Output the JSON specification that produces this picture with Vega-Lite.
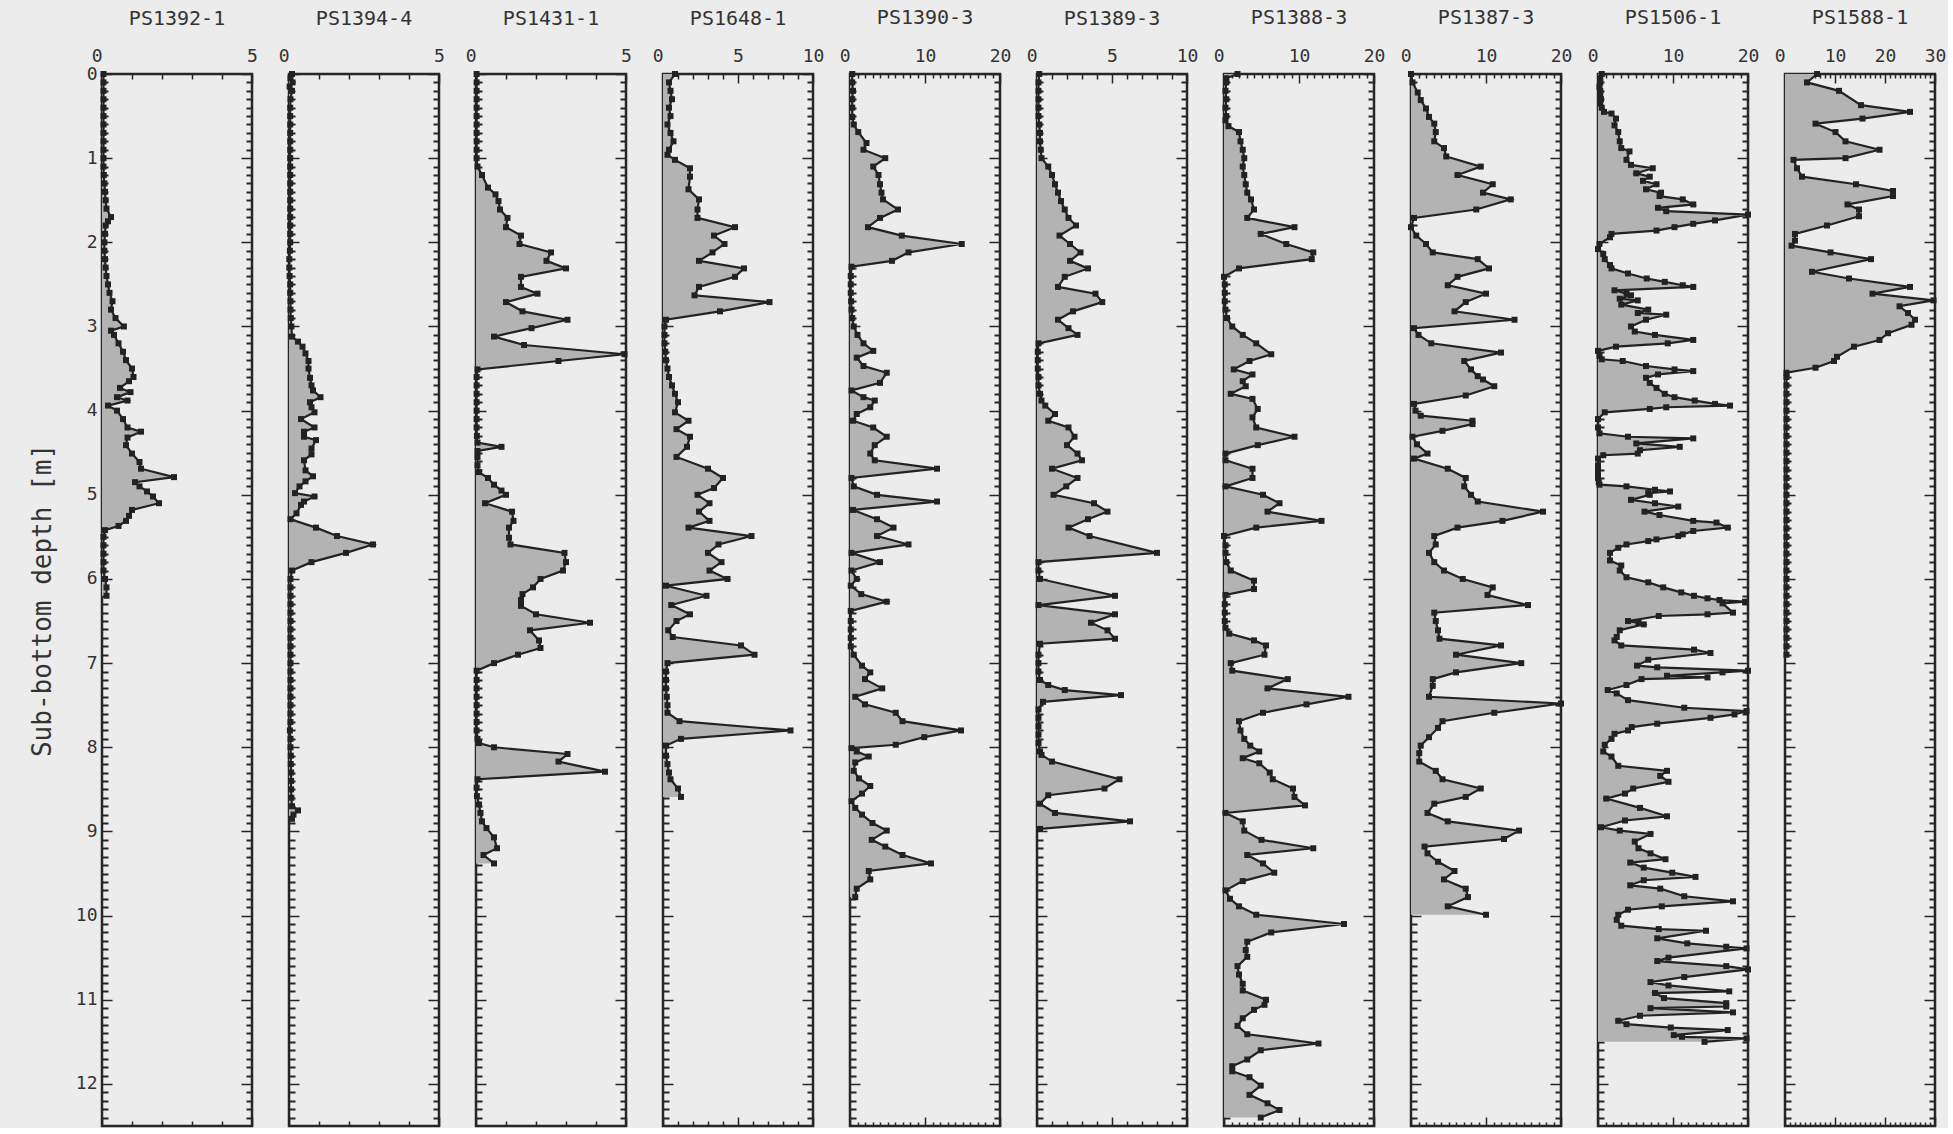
{
"$schema":"https://vega.github.io/schema/vega-lite/v6.json",
"background":"#ececec",
"padding":{"left":28,"top":6,"right":0,"bottom":0},
"spacing":37,
"bounds":"flush",
"config":{
 "view":{"stroke":"#262626","strokeWidth":2.5},
 "axis":{"labelFont":"DejaVu Sans Mono","labelFontSize":18,"labelColor":"#333","tickColor":"#262626","tickWidth":1.5,"domain":false,"grid":false,"titleFont":"DejaVu Sans Mono","titleFontSize":26,"titleFontWeight":"normal","titleColor":"#333","labelOverlap":false,"labelFlush":false},
 "title":{"font":"DejaVu Sans Mono","fontSize":20,"fontWeight":"normal","color":"#333","offset":14}
},
"datasets":{
"p1":[{"d":0,"v":0.05},{"d":0.1,"v":0.05},{"d":0.2,"v":0.05},{"d":0.3,"v":0.05},{"d":0.4,"v":0.05},{"d":0.5,"v":0.05},{"d":0.6,"v":0.05},{"d":0.7,"v":0.05},{"d":0.8,"v":0.05},{"d":0.9,"v":0.05},{"d":1.0,"v":0.05},{"d":1.1,"v":0.05},{"d":1.2,"v":0.06},{"d":1.3,"v":0.08},{"d":1.4,"v":0.1},{"d":1.5,"v":0.12},{"d":1.6,"v":0.15},{"d":1.7,"v":0.3},{"d":1.75,"v":0.2},{"d":1.8,"v":0.12},{"d":1.9,"v":0.1},{"d":2.0,"v":0.08},{"d":2.1,"v":0.08},{"d":2.2,"v":0.1},{"d":2.3,"v":0.12},{"d":2.4,"v":0.15},{"d":2.5,"v":0.2},{"d":2.6,"v":0.25},{"d":2.7,"v":0.35},{"d":2.8,"v":0.3},{"d":2.9,"v":0.45},{"d":3.0,"v":0.73},{"d":3.05,"v":0.3},{"d":3.1,"v":0.4},{"d":3.2,"v":0.55},{"d":3.3,"v":0.7},{"d":3.4,"v":0.8},{"d":3.5,"v":1.0},{"d":3.6,"v":1.05},{"d":3.65,"v":0.9},{"d":3.73,"v":0.6},{"d":3.78,"v":0.95},{"d":3.84,"v":0.5},{"d":3.88,"v":0.85},{"d":3.94,"v":0.2},{"d":4.0,"v":0.5},{"d":4.1,"v":0.7},{"d":4.2,"v":0.85},{"d":4.25,"v":1.3},{"d":4.32,"v":0.85},{"d":4.41,"v":0.8},{"d":4.51,"v":1.0},{"d":4.61,"v":1.25},{"d":4.69,"v":1.3},{"d":4.79,"v":2.4},{"d":4.85,"v":1.1},{"d":4.9,"v":1.25},{"d":4.96,"v":1.5},{"d":5.02,"v":1.7},{"d":5.1,"v":1.9},{"d":5.18,"v":1.0},{"d":5.25,"v":0.9},{"d":5.31,"v":0.8},{"d":5.37,"v":0.55},{"d":5.42,"v":0.1},{"d":5.5,"v":0.05},{"d":5.6,"v":0.05},{"d":5.7,"v":0.05},{"d":5.8,"v":0.05},{"d":5.9,"v":0.05},{"d":6.0,"v":0.1},{"d":6.1,"v":0.15},{"d":6.2,"v":0.15}],
"p2":[{"d":0,"v":0.1},{"d":0.05,"v":0.05},{"d":0.1,"v":0.12},{"d":0.15,"v":0.02},{"d":0.2,"v":0.1},{"d":0.3,"v":0.05},{"d":0.4,"v":0.04},{"d":0.5,"v":0.04},{"d":0.6,"v":0.04},{"d":0.7,"v":0.04},{"d":0.8,"v":0.04},{"d":0.9,"v":0.04},{"d":1.0,"v":0.04},{"d":1.1,"v":0.04},{"d":1.2,"v":0.04},{"d":1.3,"v":0.04},{"d":1.4,"v":0.04},{"d":1.5,"v":0.04},{"d":1.6,"v":0.04},{"d":1.7,"v":0.04},{"d":1.8,"v":0.04},{"d":1.9,"v":0.04},{"d":2.0,"v":0.04},{"d":2.1,"v":0.03},{"d":2.2,"v":0.01},{"d":2.3,"v":0.01},{"d":2.4,"v":0.02},{"d":2.5,"v":0.04},{"d":2.6,"v":0.04},{"d":2.7,"v":0.05},{"d":2.8,"v":0.05},{"d":2.9,"v":0.06},{"d":3.0,"v":0.08},{"d":3.12,"v":0.1},{"d":3.18,"v":0.3},{"d":3.24,"v":0.45},{"d":3.32,"v":0.55},{"d":3.41,"v":0.65},{"d":3.5,"v":0.65},{"d":3.61,"v":0.7},{"d":3.7,"v":0.75},{"d":3.76,"v":0.8},{"d":3.84,"v":1.05},{"d":3.9,"v":0.7},{"d":3.96,"v":0.75},{"d":4.02,"v":0.85},{"d":4.1,"v":0.4},{"d":4.2,"v":0.85},{"d":4.25,"v":0.5},{"d":4.31,"v":0.5},{"d":4.35,"v":0.9},{"d":4.45,"v":0.75},{"d":4.52,"v":0.75},{"d":4.59,"v":0.5},{"d":4.71,"v":0.55},{"d":4.78,"v":0.8},{"d":4.84,"v":0.55},{"d":4.9,"v":0.35},{"d":4.98,"v":0.2},{"d":5.02,"v":0.85},{"d":5.08,"v":0.5},{"d":5.12,"v":0.4},{"d":5.22,"v":0.25},{"d":5.29,"v":0.05},{"d":5.39,"v":0.9},{"d":5.49,"v":1.6},{"d":5.59,"v":2.8},{"d":5.69,"v":1.9},{"d":5.8,"v":0.75},{"d":5.9,"v":0.1},{"d":6.0,"v":0.05},{"d":6.1,"v":0.05},{"d":6.2,"v":0.05},{"d":6.3,"v":0.05},{"d":6.4,"v":0.05},{"d":6.5,"v":0.05},{"d":6.6,"v":0.05},{"d":6.7,"v":0.05},{"d":6.8,"v":0.05},{"d":6.9,"v":0.05},{"d":7.0,"v":0.05},{"d":7.1,"v":0.05},{"d":7.2,"v":0.05},{"d":7.3,"v":0.05},{"d":7.4,"v":0.05},{"d":7.5,"v":0.05},{"d":7.6,"v":0.05},{"d":7.7,"v":0.05},{"d":7.8,"v":0.03},{"d":7.9,"v":0.05},{"d":8.0,"v":0.05},{"d":8.1,"v":0.06},{"d":8.2,"v":0.06},{"d":8.3,"v":0.07},{"d":8.4,"v":0.07},{"d":8.5,"v":0.07},{"d":8.6,"v":0.08},{"d":8.7,"v":0.1},{"d":8.75,"v":0.3},{"d":8.8,"v":0.15},{"d":8.85,"v":0.1}],
"p3":[{"d":0,"v":0.02},{"d":0.1,"v":0.02},{"d":0.2,"v":0.02},{"d":0.3,"v":0.02},{"d":0.4,"v":0.02},{"d":0.5,"v":0.02},{"d":0.6,"v":0.02},{"d":0.7,"v":0.02},{"d":0.8,"v":0.02},{"d":0.9,"v":0.02},{"d":1.0,"v":0.02},{"d":1.1,"v":0.05},{"d":1.2,"v":0.2},{"d":1.35,"v":0.4},{"d":1.43,"v":0.65},{"d":1.51,"v":0.75},{"d":1.61,"v":0.8},{"d":1.71,"v":1.05},{"d":1.82,"v":1.0},{"d":1.92,"v":1.5},{"d":2.02,"v":1.45},{"d":2.12,"v":2.5},{"d":2.22,"v":2.35},{"d":2.31,"v":3.0},{"d":2.41,"v":1.5},{"d":2.53,"v":1.5},{"d":2.61,"v":2.05},{"d":2.71,"v":1.0},{"d":2.82,"v":1.55},{"d":2.92,"v":3.05},{"d":3.02,"v":1.85},{"d":3.12,"v":0.6},{"d":3.22,"v":1.6},{"d":3.33,"v":4.95},{"d":3.41,"v":2.75},{"d":3.51,"v":0.05},{"d":3.6,"v":0.02},{"d":3.7,"v":0.02},{"d":3.8,"v":0.02},{"d":3.9,"v":0.02},{"d":4.0,"v":0.02},{"d":4.1,"v":0.02},{"d":4.2,"v":0.02},{"d":4.3,"v":0.03},{"d":4.38,"v":0.05},{"d":4.43,"v":0.85},{"d":4.48,"v":0.05},{"d":4.55,"v":0.05},{"d":4.65,"v":0.05},{"d":4.73,"v":0.1},{"d":4.8,"v":0.4},{"d":4.88,"v":0.6},{"d":4.95,"v":0.85},{"d":5.0,"v":1.0},{"d":5.1,"v":0.3},{"d":5.2,"v":1.2},{"d":5.31,"v":1.25},{"d":5.39,"v":1.1},{"d":5.51,"v":1.1},{"d":5.59,"v":1.15},{"d":5.69,"v":2.95},{"d":5.8,"v":3.0},{"d":5.9,"v":2.9},{"d":6.0,"v":2.15},{"d":6.1,"v":1.9},{"d":6.18,"v":1.55},{"d":6.25,"v":1.5},{"d":6.32,"v":1.5},{"d":6.42,"v":2.0},{"d":6.52,"v":3.8},{"d":6.61,"v":1.8},{"d":6.73,"v":2.1},{"d":6.82,"v":2.15},{"d":6.9,"v":1.4},{"d":7.0,"v":0.6},{"d":7.09,"v":0.02},{"d":7.2,"v":0.02},{"d":7.3,"v":0.02},{"d":7.4,"v":0.02},{"d":7.5,"v":0.02},{"d":7.6,"v":0.02},{"d":7.7,"v":0.02},{"d":7.8,"v":0.02},{"d":7.9,"v":0.05},{"d":7.95,"v":0.1},{"d":8.0,"v":0.6},{"d":8.08,"v":3.05},{"d":8.17,"v":2.75},{"d":8.29,"v":4.3},{"d":8.38,"v":0.05},{"d":8.48,"v":0.02},{"d":8.58,"v":0.03},{"d":8.68,"v":0.1},{"d":8.78,"v":0.15},{"d":8.88,"v":0.2},{"d":8.96,"v":0.35},{"d":9.07,"v":0.6},{"d":9.2,"v":0.7},{"d":9.28,"v":0.25},{"d":9.38,"v":0.6}],
"p4":[{"d":0,"v":0.8},{"d":0.1,"v":0.4},{"d":0.2,"v":0.5},{"d":0.3,"v":0.6},{"d":0.4,"v":0.4},{"d":0.5,"v":0.5},{"d":0.6,"v":0.3},{"d":0.7,"v":0.5},{"d":0.8,"v":0.7},{"d":0.9,"v":0.4},{"d":0.96,"v":0.3},{"d":1.02,"v":0.8},{"d":1.12,"v":1.8},{"d":1.22,"v":1.8},{"d":1.37,"v":1.7},{"d":1.49,"v":2.4},{"d":1.61,"v":2.3},{"d":1.71,"v":2.3},{"d":1.82,"v":4.8},{"d":1.92,"v":3.4},{"d":2.02,"v":4.1},{"d":2.12,"v":3.3},{"d":2.22,"v":2.4},{"d":2.31,"v":5.4},{"d":2.41,"v":4.8},{"d":2.53,"v":2.4},{"d":2.63,"v":2.1},{"d":2.71,"v":7.1},{"d":2.82,"v":3.8},{"d":2.92,"v":0.2},{"d":3.0,"v":0.1},{"d":3.1,"v":0.1},{"d":3.2,"v":0.1},{"d":3.3,"v":0.15},{"d":3.4,"v":0.2},{"d":3.5,"v":0.3},{"d":3.6,"v":0.4},{"d":3.7,"v":0.6},{"d":3.8,"v":0.8},{"d":3.9,"v":1.0},{"d":4.02,"v":0.8},{"d":4.12,"v":1.7},{"d":4.22,"v":0.9},{"d":4.31,"v":1.8},{"d":4.43,"v":1.6},{"d":4.55,"v":0.9},{"d":4.69,"v":3.0},{"d":4.8,"v":4.0},{"d":4.92,"v":3.4},{"d":5.0,"v":2.3},{"d":5.1,"v":3.1},{"d":5.2,"v":2.4},{"d":5.31,"v":3.1},{"d":5.39,"v":1.7},{"d":5.49,"v":5.9},{"d":5.59,"v":3.7},{"d":5.69,"v":3.0},{"d":5.8,"v":3.9},{"d":5.9,"v":3.1},{"d":6.0,"v":4.3},{"d":6.08,"v":0.2},{"d":6.2,"v":2.9},{"d":6.31,"v":0.55},{"d":6.42,"v":1.8},{"d":6.5,"v":0.9},{"d":6.61,"v":0.35},{"d":6.69,"v":0.65},{"d":6.79,"v":5.2},{"d":6.9,"v":6.1},{"d":7.0,"v":0.3},{"d":7.1,"v":0.2},{"d":7.2,"v":0.2},{"d":7.3,"v":0.2},{"d":7.4,"v":0.25},{"d":7.5,"v":0.3},{"d":7.59,"v":0.3},{"d":7.69,"v":1.1},{"d":7.8,"v":8.5},{"d":7.9,"v":1.2},{"d":7.98,"v":0.2},{"d":8.1,"v":0.2},{"d":8.2,"v":0.3},{"d":8.3,"v":0.4},{"d":8.38,"v":0.5},{"d":8.49,"v":1.0},{"d":8.59,"v":1.2}],
"p5":[{"d":0,"v":0.3},{"d":0.1,"v":0.3},{"d":0.2,"v":0.4},{"d":0.3,"v":0.3},{"d":0.4,"v":0.3},{"d":0.51,"v":0.3},{"d":0.6,"v":0.5},{"d":0.69,"v":1.1},{"d":0.82,"v":2.2},{"d":0.9,"v":1.8},{"d":1.0,"v":4.7},{"d":1.1,"v":3.1},{"d":1.2,"v":3.8},{"d":1.31,"v":4.0},{"d":1.41,"v":4.2},{"d":1.49,"v":4.4},{"d":1.61,"v":6.4},{"d":1.71,"v":4.0},{"d":1.82,"v":2.4},{"d":1.92,"v":6.9},{"d":2.02,"v":14.9},{"d":2.12,"v":7.8},{"d":2.22,"v":5.6},{"d":2.29,"v":0.2},{"d":2.4,"v":0.1},{"d":2.5,"v":0.1},{"d":2.6,"v":0.1},{"d":2.7,"v":0.15},{"d":2.8,"v":0.2},{"d":2.9,"v":0.3},{"d":3.0,"v":0.5},{"d":3.1,"v":1.0},{"d":3.2,"v":1.8},{"d":3.29,"v":3.1},{"d":3.37,"v":0.9},{"d":3.47,"v":1.8},{"d":3.55,"v":4.9},{"d":3.67,"v":4.0},{"d":3.76,"v":0.2},{"d":3.84,"v":1.8},{"d":3.88,"v":3.3},{"d":3.96,"v":2.7},{"d":4.04,"v":0.9},{"d":4.12,"v":0.4},{"d":4.2,"v":3.1},{"d":4.31,"v":4.9},{"d":4.41,"v":3.3},{"d":4.51,"v":2.7},{"d":4.59,"v":3.3},{"d":4.69,"v":11.6},{"d":4.8,"v":0.2},{"d":4.9,"v":0.5},{"d":5.0,"v":3.6},{"d":5.08,"v":11.6},{"d":5.18,"v":0.4},{"d":5.29,"v":3.6},{"d":5.39,"v":5.8},{"d":5.49,"v":3.6},{"d":5.59,"v":7.8},{"d":5.69,"v":0.2},{"d":5.8,"v":4.0},{"d":5.9,"v":0.2},{"d":6.0,"v":0.9},{"d":6.08,"v":0.1},{"d":6.18,"v":1.5},{"d":6.27,"v":4.9},{"d":6.38,"v":0.1},{"d":6.5,"v":0.1},{"d":6.6,"v":0.1},{"d":6.7,"v":0.1},{"d":6.8,"v":0.1},{"d":6.9,"v":0.5},{"d":7.03,"v":1.6},{"d":7.11,"v":2.7},{"d":7.19,"v":2.0},{"d":7.3,"v":4.3},{"d":7.4,"v":0.7},{"d":7.49,"v":2.0},{"d":7.59,"v":6.1},{"d":7.69,"v":7.0},{"d":7.8,"v":14.8},{"d":7.88,"v":9.9},{"d":7.97,"v":6.1},{"d":8.01,"v":0.2},{"d":8.05,"v":0.9},{"d":8.11,"v":2.5},{"d":8.18,"v":0.7},{"d":8.28,"v":0.5},{"d":8.37,"v":1.2},{"d":8.46,"v":2.7},{"d":8.55,"v":1.6},{"d":8.64,"v":0.2},{"d":8.72,"v":0.7},{"d":8.8,"v":1.6},{"d":8.9,"v":3.0},{"d":8.99,"v":4.9},{"d":9.1,"v":2.9},{"d":9.18,"v":4.7},{"d":9.28,"v":7.0},{"d":9.38,"v":10.8},{"d":9.47,"v":2.5},{"d":9.57,"v":2.7},{"d":9.68,"v":0.9},{"d":9.78,"v":0.7}],
"p6":[{"d":0,"v":0.15},{"d":0.1,"v":0.1},{"d":0.2,"v":0.1},{"d":0.3,"v":0.1},{"d":0.4,"v":0.1},{"d":0.5,"v":0.1},{"d":0.6,"v":0.15},{"d":0.7,"v":0.2},{"d":0.8,"v":0.2},{"d":0.9,"v":0.25},{"d":1.0,"v":0.3},{"d":1.1,"v":0.75},{"d":1.2,"v":1.0},{"d":1.31,"v":1.2},{"d":1.41,"v":1.4},{"d":1.51,"v":1.6},{"d":1.61,"v":1.85},{"d":1.71,"v":2.1},{"d":1.8,"v":2.6},{"d":1.92,"v":1.5},{"d":2.02,"v":2.2},{"d":2.12,"v":2.9},{"d":2.22,"v":2.2},{"d":2.31,"v":3.4},{"d":2.41,"v":1.85},{"d":2.53,"v":1.4},{"d":2.61,"v":3.9},{"d":2.71,"v":4.35},{"d":2.82,"v":2.4},{"d":2.92,"v":1.4},{"d":3.02,"v":2.1},{"d":3.1,"v":2.7},{"d":3.2,"v":0.1},{"d":3.3,"v":0.05},{"d":3.4,"v":0.05},{"d":3.5,"v":0.05},{"d":3.6,"v":0.1},{"d":3.7,"v":0.1},{"d":3.8,"v":0.2},{"d":3.88,"v":0.3},{"d":3.94,"v":0.55},{"d":4.04,"v":1.2},{"d":4.12,"v":0.75},{"d":4.2,"v":2.1},{"d":4.31,"v":2.5},{"d":4.41,"v":2.0},{"d":4.51,"v":2.7},{"d":4.59,"v":3.0},{"d":4.69,"v":1.0},{"d":4.8,"v":2.7},{"d":4.9,"v":1.95},{"d":5.0,"v":1.1},{"d":5.1,"v":3.8},{"d":5.2,"v":4.7},{"d":5.29,"v":3.4},{"d":5.39,"v":2.1},{"d":5.49,"v":3.5},{"d":5.69,"v":8.0},{"d":5.8,"v":0.1},{"d":5.9,"v":0.1},{"d":6.0,"v":0.2},{"d":6.2,"v":5.2},{"d":6.31,"v":0.1},{"d":6.42,"v":5.2},{"d":6.52,"v":3.6},{"d":6.61,"v":4.7},{"d":6.71,"v":5.2},{"d":6.77,"v":0.2},{"d":6.9,"v":0.1},{"d":7.0,"v":0.1},{"d":7.1,"v":0.1},{"d":7.2,"v":0.2},{"d":7.26,"v":0.75},{"d":7.32,"v":1.85},{"d":7.38,"v":5.6},{"d":7.46,"v":0.4},{"d":7.55,"v":0.1},{"d":7.65,"v":0.1},{"d":7.75,"v":0.1},{"d":7.85,"v":0.1},{"d":7.95,"v":0.1},{"d":8.05,"v":0.2},{"d":8.09,"v":0.3},{"d":8.17,"v":1.0},{"d":8.38,"v":5.5},{"d":8.49,"v":4.5},{"d":8.57,"v":0.75},{"d":8.67,"v":0.2},{"d":8.78,"v":1.2},{"d":8.88,"v":6.2},{"d":8.97,"v":0.2}],
"p7":[{"d":0,"v":1.8},{"d":0.05,"v":0.3},{"d":0.1,"v":0.3},{"d":0.2,"v":0.2},{"d":0.3,"v":0.3},{"d":0.4,"v":0.2},{"d":0.5,"v":0.3},{"d":0.55,"v":0.2},{"d":0.62,"v":0.6},{"d":0.69,"v":2.0},{"d":0.8,"v":2.2},{"d":0.9,"v":2.5},{"d":1.0,"v":2.7},{"d":1.1,"v":2.5},{"d":1.2,"v":2.7},{"d":1.31,"v":2.9},{"d":1.41,"v":3.1},{"d":1.49,"v":3.6},{"d":1.61,"v":4.0},{"d":1.71,"v":3.1},{"d":1.82,"v":9.4},{"d":1.9,"v":4.9},{"d":2.02,"v":8.3},{"d":2.12,"v":11.9},{"d":2.2,"v":11.7},{"d":2.31,"v":2.0},{"d":2.41,"v":0.0},{"d":2.5,"v":0.1},{"d":2.6,"v":0.1},{"d":2.7,"v":0.1},{"d":2.8,"v":0.2},{"d":2.9,"v":0.4},{"d":3.0,"v":1.1},{"d":3.1,"v":2.5},{"d":3.2,"v":4.3},{"d":3.33,"v":6.3},{"d":3.41,"v":3.4},{"d":3.51,"v":1.3},{"d":3.57,"v":3.8},{"d":3.65,"v":2.5},{"d":3.71,"v":2.9},{"d":3.8,"v":0.9},{"d":3.86,"v":3.8},{"d":3.98,"v":4.5},{"d":4.08,"v":3.8},{"d":4.2,"v":4.3},{"d":4.31,"v":9.4},{"d":4.41,"v":4.5},{"d":4.51,"v":0.2},{"d":4.59,"v":0.2},{"d":4.69,"v":3.8},{"d":4.8,"v":3.8},{"d":4.9,"v":0.2},{"d":5.0,"v":5.2},{"d":5.1,"v":7.4},{"d":5.2,"v":5.8},{"d":5.31,"v":13.0},{"d":5.39,"v":4.3},{"d":5.49,"v":0.0},{"d":5.6,"v":0.2},{"d":5.69,"v":0.2},{"d":5.8,"v":0.3},{"d":5.9,"v":0.9},{"d":6.02,"v":4.0},{"d":6.12,"v":4.0},{"d":6.19,"v":0.2},{"d":6.3,"v":0.1},{"d":6.4,"v":0.1},{"d":6.5,"v":0.1},{"d":6.58,"v":0.2},{"d":6.65,"v":0.7},{"d":6.73,"v":4.0},{"d":6.79,"v":5.6},{"d":6.9,"v":5.4},{"d":7.0,"v":0.9},{"d":7.09,"v":1.1},{"d":7.19,"v":8.5},{"d":7.3,"v":5.8},{"d":7.4,"v":16.6},{"d":7.49,"v":11.0},{"d":7.59,"v":5.2},{"d":7.69,"v":2.0},{"d":7.8,"v":2.2},{"d":7.9,"v":2.7},{"d":7.98,"v":3.5},{"d":8.05,"v":4.7},{"d":8.13,"v":2.5},{"d":8.19,"v":4.7},{"d":8.3,"v":6.1},{"d":8.38,"v":6.5},{"d":8.49,"v":9.2},{"d":8.59,"v":9.4},{"d":8.69,"v":10.8},{"d":8.78,"v":0.2},{"d":8.88,"v":2.5},{"d":8.99,"v":2.7},{"d":9.1,"v":5.0},{"d":9.2,"v":11.9},{"d":9.28,"v":3.1},{"d":9.38,"v":5.2},{"d":9.49,"v":6.7},{"d":9.59,"v":2.5},{"d":9.7,"v":0.2},{"d":9.8,"v":0.8},{"d":9.89,"v":2.0},{"d":9.99,"v":4.3},{"d":10.1,"v":16.0},{"d":10.2,"v":6.3},{"d":10.31,"v":3.1},{"d":10.41,"v":2.9},{"d":10.49,"v":3.1},{"d":10.6,"v":1.8},{"d":10.7,"v":2.0},{"d":10.81,"v":2.5},{"d":10.89,"v":2.5},{"d":11.0,"v":5.6},{"d":11.06,"v":5.4},{"d":11.12,"v":4.0},{"d":11.22,"v":2.5},{"d":11.31,"v":1.8},{"d":11.41,"v":3.1},{"d":11.52,"v":12.6},{"d":11.6,"v":4.9},{"d":11.71,"v":3.1},{"d":11.79,"v":1.1},{"d":11.85,"v":1.1},{"d":11.92,"v":3.4},{"d":12.02,"v":4.9},{"d":12.13,"v":3.4},{"d":12.23,"v":5.8},{"d":12.31,"v":7.4},{"d":12.4,"v":4.9}],
"p8":[{"d":0,"v":0.0},{"d":0.1,"v":0.2},{"d":0.22,"v":0.9},{"d":0.31,"v":1.3},{"d":0.41,"v":2.0},{"d":0.51,"v":2.4},{"d":0.59,"v":3.1},{"d":0.69,"v":3.3},{"d":0.8,"v":3.1},{"d":0.88,"v":4.4},{"d":0.98,"v":4.7},{"d":1.1,"v":9.3},{"d":1.2,"v":6.2},{"d":1.31,"v":10.9},{"d":1.41,"v":9.6},{"d":1.49,"v":13.3},{"d":1.61,"v":8.7},{"d":1.71,"v":0.4},{"d":1.82,"v":0.0},{"d":1.92,"v":0.7},{"d":2.02,"v":2.0},{"d":2.12,"v":2.9},{"d":2.2,"v":8.9},{"d":2.31,"v":10.4},{"d":2.41,"v":6.2},{"d":2.51,"v":4.9},{"d":2.61,"v":10.0},{"d":2.71,"v":7.3},{"d":2.82,"v":5.8},{"d":2.92,"v":13.8},{"d":3.02,"v":0.4},{"d":3.1,"v":1.0},{"d":3.2,"v":2.7},{"d":3.31,"v":12.0},{"d":3.41,"v":7.1},{"d":3.51,"v":8.0},{"d":3.59,"v":8.9},{"d":3.63,"v":9.6},{"d":3.71,"v":11.1},{"d":3.82,"v":7.3},{"d":3.92,"v":0.4},{"d":4.0,"v":0.6},{"d":4.06,"v":1.3},{"d":4.12,"v":8.2},{"d":4.16,"v":8.2},{"d":4.24,"v":4.2},{"d":4.31,"v":0.2},{"d":4.4,"v":0.8},{"d":4.51,"v":2.2},{"d":4.57,"v":0.4},{"d":4.69,"v":4.9},{"d":4.8,"v":7.3},{"d":4.9,"v":7.1},{"d":5.0,"v":8.0},{"d":5.08,"v":8.9},{"d":5.2,"v":17.6},{"d":5.31,"v":12.2},{"d":5.39,"v":6.2},{"d":5.49,"v":3.1},{"d":5.59,"v":3.3},{"d":5.69,"v":2.4},{"d":5.8,"v":3.1},{"d":5.9,"v":4.4},{"d":6.0,"v":6.9},{"d":6.1,"v":10.9},{"d":6.19,"v":10.2},{"d":6.31,"v":15.6},{"d":6.4,"v":3.1},{"d":6.5,"v":3.3},{"d":6.61,"v":3.6},{"d":6.71,"v":3.8},{"d":6.79,"v":12.0},{"d":6.9,"v":6.0},{"d":7.0,"v":14.7},{"d":7.11,"v":6.0},{"d":7.19,"v":2.9},{"d":7.27,"v":2.9},{"d":7.4,"v":2.4},{"d":7.48,"v":20.0},{"d":7.59,"v":11.1},{"d":7.69,"v":4.2},{"d":7.77,"v":3.6},{"d":7.88,"v":2.4},{"d":7.98,"v":1.3},{"d":8.07,"v":1.1},{"d":8.17,"v":1.1},{"d":8.28,"v":3.3},{"d":8.38,"v":4.2},{"d":8.49,"v":9.3},{"d":8.59,"v":7.3},{"d":8.67,"v":3.1},{"d":8.78,"v":2.2},{"d":8.88,"v":4.9},{"d":8.99,"v":14.4},{"d":9.09,"v":12.4},{"d":9.18,"v":1.8},{"d":9.26,"v":2.2},{"d":9.36,"v":3.6},{"d":9.47,"v":5.8},{"d":9.57,"v":4.4},{"d":9.68,"v":7.3},{"d":9.78,"v":7.6},{"d":9.89,"v":4.9},{"d":9.99,"v":10.0}],
"p9":[{"d":0,"v":0.5},{"d":0.05,"v":0.3},{"d":0.1,"v":0.3},{"d":0.15,"v":0.2},{"d":0.2,"v":0.3},{"d":0.25,"v":0.3},{"d":0.3,"v":0.4},{"d":0.35,"v":0.3},{"d":0.4,"v":0.5},{"d":0.45,"v":0.8},{"d":0.47,"v":1.8},{"d":0.53,"v":2.4},{"d":0.61,"v":2.2},{"d":0.69,"v":2.7},{"d":0.8,"v":2.9},{"d":0.88,"v":3.1},{"d":0.92,"v":4.2},{"d":1.02,"v":3.8},{"d":1.08,"v":4.4},{"d":1.12,"v":7.3},{"d":1.18,"v":5.1},{"d":1.22,"v":6.9},{"d":1.27,"v":6.0},{"d":1.31,"v":7.8},{"d":1.37,"v":6.4},{"d":1.41,"v":8.4},{"d":1.45,"v":8.2},{"d":1.49,"v":11.3},{"d":1.55,"v":12.7},{"d":1.59,"v":8.0},{"d":1.63,"v":9.1},{"d":1.67,"v":20.0},{"d":1.74,"v":15.6},{"d":1.78,"v":12.7},{"d":1.82,"v":10.2},{"d":1.86,"v":7.8},{"d":1.9,"v":1.8},{"d":1.94,"v":1.6},{"d":2.02,"v":0.2},{"d":2.08,"v":0.0},{"d":2.14,"v":0.7},{"d":2.2,"v":0.9},{"d":2.27,"v":1.6},{"d":2.31,"v":1.8},{"d":2.37,"v":4.0},{"d":2.43,"v":6.5},{"d":2.47,"v":8.9},{"d":2.51,"v":11.3},{"d":2.53,"v":12.7},{"d":2.57,"v":2.2},{"d":2.61,"v":3.8},{"d":2.63,"v":4.4},{"d":2.67,"v":2.9},{"d":2.69,"v":5.3},{"d":2.74,"v":3.1},{"d":2.8,"v":6.7},{"d":2.84,"v":5.3},{"d":2.86,"v":9.1},{"d":2.92,"v":6.4},{"d":3.0,"v":4.4},{"d":3.06,"v":4.9},{"d":3.1,"v":7.6},{"d":3.16,"v":12.7},{"d":3.2,"v":9.3},{"d":3.24,"v":2.4},{"d":3.29,"v":0.0},{"d":3.35,"v":0.2},{"d":3.39,"v":0.5},{"d":3.41,"v":3.3},{"d":3.47,"v":6.4},{"d":3.51,"v":10.2},{"d":3.53,"v":12.7},{"d":3.57,"v":8.0},{"d":3.61,"v":6.4},{"d":3.67,"v":6.9},{"d":3.73,"v":7.8},{"d":3.8,"v":8.9},{"d":3.84,"v":10.2},{"d":3.88,"v":12.9},{"d":3.92,"v":15.6},{"d":3.94,"v":17.6},{"d":3.96,"v":9.1},{"d":3.98,"v":6.9},{"d":4.02,"v":0.9},{"d":4.1,"v":0.0},{"d":4.2,"v":0.0},{"d":4.27,"v":0.2},{"d":4.31,"v":4.0},{"d":4.33,"v":12.7},{"d":4.39,"v":5.1},{"d":4.43,"v":10.9},{"d":4.47,"v":5.6},{"d":4.51,"v":5.3},{"d":4.53,"v":0.7},{"d":4.57,"v":0.0},{"d":4.65,"v":0.0},{"d":4.7,"v":0.0},{"d":4.75,"v":0.0},{"d":4.8,"v":0.0},{"d":4.85,"v":0.1},{"d":4.88,"v":0.2},{"d":4.9,"v":3.8},{"d":4.94,"v":7.6},{"d":4.96,"v":9.6},{"d":4.98,"v":6.7},{"d":5.0,"v":6.9},{"d":5.06,"v":4.4},{"d":5.1,"v":7.6},{"d":5.14,"v":10.7},{"d":5.2,"v":6.2},{"d":5.24,"v":8.2},{"d":5.31,"v":12.7},{"d":5.33,"v":15.8},{"d":5.39,"v":17.3},{"d":5.43,"v":12.7},{"d":5.47,"v":11.3},{"d":5.49,"v":10.7},{"d":5.53,"v":7.8},{"d":5.55,"v":6.7},{"d":5.59,"v":3.8},{"d":5.63,"v":2.7},{"d":5.69,"v":1.6},{"d":5.78,"v":1.6},{"d":5.84,"v":3.1},{"d":5.9,"v":2.9},{"d":5.98,"v":3.8},{"d":6.04,"v":6.7},{"d":6.1,"v":8.7},{"d":6.16,"v":11.1},{"d":6.2,"v":12.8},{"d":6.23,"v":14.6},{"d":6.25,"v":16.2},{"d":6.27,"v":19.6},{"d":6.29,"v":16.6},{"d":6.4,"v":18.0},{"d":6.42,"v":14.6},{"d":6.44,"v":8.1},{"d":6.5,"v":4.0},{"d":6.52,"v":5.4},{"d":6.54,"v":6.1},{"d":6.61,"v":2.9},{"d":6.69,"v":2.5},{"d":6.73,"v":2.2},{"d":6.79,"v":3.1},{"d":6.84,"v":12.8},{"d":6.88,"v":15.0},{"d":6.96,"v":6.7},{"d":7.03,"v":5.2},{"d":7.05,"v":7.9},{"d":7.09,"v":20.0},{"d":7.11,"v":16.6},{"d":7.15,"v":9.2},{"d":7.17,"v":14.6},{"d":7.19,"v":5.8},{"d":7.26,"v":3.8},{"d":7.32,"v":1.3},{"d":7.36,"v":2.5},{"d":7.44,"v":4.0},{"d":7.53,"v":11.5},{"d":7.57,"v":19.8},{"d":7.61,"v":18.2},{"d":7.65,"v":15.0},{"d":7.72,"v":7.9},{"d":7.76,"v":4.5},{"d":7.8,"v":4.0},{"d":7.84,"v":2.2},{"d":7.9,"v":1.8},{"d":7.97,"v":0.9},{"d":8.05,"v":0.7},{"d":8.11,"v":1.8},{"d":8.22,"v":2.7},{"d":8.28,"v":9.2},{"d":8.34,"v":8.3},{"d":8.41,"v":9.4},{"d":8.49,"v":4.7},{"d":8.55,"v":3.6},{"d":8.61,"v":1.1},{"d":8.72,"v":5.6},{"d":8.82,"v":9.2},{"d":8.87,"v":3.6},{"d":8.95,"v":0.4},{"d":8.99,"v":2.9},{"d":9.03,"v":7.0},{"d":9.12,"v":4.9},{"d":9.2,"v":5.4},{"d":9.26,"v":7.0},{"d":9.33,"v":9.0},{"d":9.37,"v":4.3},{"d":9.43,"v":6.1},{"d":9.49,"v":9.9},{"d":9.54,"v":13.0},{"d":9.58,"v":6.1},{"d":9.64,"v":4.3},{"d":9.68,"v":8.3},{"d":9.77,"v":11.5},{"d":9.83,"v":18.0},{"d":9.89,"v":8.5},{"d":9.93,"v":4.0},{"d":9.99,"v":2.7},{"d":10.05,"v":2.5},{"d":10.12,"v":3.1},{"d":10.16,"v":8.1},{"d":10.18,"v":14.4},{"d":10.27,"v":7.9},{"d":10.33,"v":11.9},{"d":10.37,"v":17.1},{"d":10.39,"v":19.8},{"d":10.5,"v":9.4},{"d":10.54,"v":7.9},{"d":10.6,"v":17.1},{"d":10.64,"v":20.0},{"d":10.73,"v":11.5},{"d":10.79,"v":7.0},{"d":10.83,"v":9.4},{"d":10.9,"v":17.5},{"d":10.92,"v":7.6},{"d":10.98,"v":8.8},{"d":11.04,"v":17.1},{"d":11.08,"v":17.1},{"d":11.1,"v":7.0},{"d":11.15,"v":18.0},{"d":11.19,"v":5.6},{"d":11.25,"v":2.7},{"d":11.29,"v":3.8},{"d":11.33,"v":9.7},{"d":11.36,"v":17.3},{"d":11.42,"v":10.1},{"d":11.44,"v":11.2},{"d":11.46,"v":19.8},{"d":11.5,"v":14.2}],
"p10":[{"d":0,"v":6.4},{"d":0.1,"v":4.4},{"d":0.2,"v":10.8},{"d":0.37,"v":15.2},{"d":0.45,"v":25.0},{"d":0.53,"v":15.5},{"d":0.59,"v":6.1},{"d":0.69,"v":10.1},{"d":0.8,"v":12.1},{"d":0.9,"v":18.9},{"d":1.0,"v":12.1},{"d":1.02,"v":1.7},{"d":1.12,"v":2.4},{"d":1.22,"v":3.4},{"d":1.31,"v":14.2},{"d":1.39,"v":21.6},{"d":1.45,"v":21.6},{"d":1.55,"v":12.5},{"d":1.61,"v":14.8},{"d":1.69,"v":14.8},{"d":1.8,"v":8.4},{"d":1.9,"v":2.0},{"d":1.98,"v":2.0},{"d":2.04,"v":1.3},{"d":2.12,"v":9.1},{"d":2.2,"v":17.2},{"d":2.35,"v":5.4},{"d":2.43,"v":12.8},{"d":2.53,"v":25.0},{"d":2.61,"v":17.5},{"d":2.69,"v":29.7},{"d":2.76,"v":22.9},{"d":2.84,"v":24.6},{"d":2.92,"v":26.0},{"d":2.98,"v":25.3},{"d":3.08,"v":20.6},{"d":3.16,"v":18.9},{"d":3.24,"v":13.8},{"d":3.36,"v":10.4},{"d":3.41,"v":9.8},{"d":3.49,"v":6.1},{"d":3.55,"v":0.3},{"d":3.6,"v":0.3},{"d":3.7,"v":0.3},{"d":3.8,"v":0.3},{"d":3.9,"v":0.3},{"d":4.0,"v":0.3},{"d":4.1,"v":0.3},{"d":4.2,"v":0.3},{"d":4.3,"v":0.3},{"d":4.4,"v":0.3},{"d":4.5,"v":0.3},{"d":4.6,"v":0.3},{"d":4.7,"v":0.3},{"d":4.8,"v":0.3},{"d":4.9,"v":0.3},{"d":5.0,"v":0.3},{"d":5.1,"v":0.3},{"d":5.2,"v":0.3},{"d":5.3,"v":0.3},{"d":5.4,"v":0.3},{"d":5.5,"v":0.3},{"d":5.6,"v":0.3},{"d":5.7,"v":0.3},{"d":5.8,"v":0.3},{"d":5.9,"v":0.3},{"d":6.0,"v":0.3},{"d":6.1,"v":0.3},{"d":6.2,"v":0.3},{"d":6.3,"v":0.3},{"d":6.4,"v":0.3},{"d":6.5,"v":0.3},{"d":6.6,"v":0.3},{"d":6.7,"v":0.3},{"d":6.8,"v":0.3},{"d":6.9,"v":0.3}]
},
"hconcat":[
{"width":150,"height":1052,"data":{"name":"p1"},"title":"PS1392-1",
 "layer":[
  {"mark":{"type":"area","orient":"horizontal","color":"#b3b3b3","opacity":1},
   "encoding":{
    "x":{"field":"v","type":"quantitative","stack":null,"scale":{"domain":[0,5],"nice":false},"axis":{"orient":"top","title":null,"values":[0,1,2,3,4,5],"tickCount":100,"format":"d","labelExpr":"indexof([0,5],datum.value)>=0?datum.label:''","tickSize":{"condition":{"test":"indexof([0,5],datum.value)>=0","value":-9},"value":-5},"labelPadding":18,"labelAlign":{"condition":{"test":"datum.value===0","value":"right"},"value":"center"}}},
    "y":{"field":"d","type":"quantitative","scale":{"domain":[0,12.5],"reverse":true,"nice":false},"axis":{"orient":"left","title":"Sub-bottom depth [m]","values":[0,1,2,3,4,5,6,7,8,9,10,11,12],"tickCount":100,"format":"d","tickSize":-10,"labelPadding":15,"titlePadding":20}}}},
  {"mark":{"type":"line","color":"#222","strokeWidth":2.2},
   "encoding":{
    "x":{"field":"v","type":"quantitative","scale":{"domain":[0,5],"nice":false},"axis":{"orient":"bottom","title":null,"labels":false,"values":[0,1,2,3,4,5],"tickCount":100,"tickSize":{"condition":{"test":"indexof([0,5],datum.value)>=0","value":-9},"value":-5}}},
    "y":{"field":"d","type":"quantitative","scale":{"domain":[0,12.5],"reverse":true,"nice":false},"axis":{"orient":"right","title":null,"labels":false,"values":[0,1,2,3,4,5,6,7,8,9,10,11,12],"tickCount":100,"tickSize":-11}},
    "order":{"field":"d","type":"quantitative"}}},
  {"mark":{"type":"point","shape":"square","filled":true,"size":36,"color":"#222","opacity":1},
   "encoding":{"x":{"field":"v","type":"quantitative","scale":{"domain":[0,5],"nice":false},"axis":null},"y":{"field":"d","type":"quantitative","scale":{"domain":[0,12.5],"reverse":true,"nice":false},"axis":{"orient":"left","title":null,"labels":false,"tickSize":-6,"tickWidth":2,"tickCount":500,"tickMinStep":0.1,"values":[0.1,0.2,0.3,0.4,0.5,0.6,0.7,0.8,0.9,1.1,1.2,1.3,1.4,1.5,1.6,1.7,1.8,1.9,2.1,2.2,2.3,2.4,2.5,2.6,2.7,2.8,2.9,3.1,3.2,3.3,3.4,3.5,3.6,3.7,3.8,3.9,4.1,4.2,4.3,4.4,4.5,4.6,4.7,4.8,4.9,5.1,5.2,5.3,5.4,5.5,5.6,5.7,5.8,5.9,6.1,6.2,6.3,6.4,6.5,6.6,6.7,6.8,6.9,7.1,7.2,7.3,7.4,7.5,7.6,7.7,7.8,7.9,8.1,8.2,8.3,8.4,8.5,8.6,8.7,8.8,8.9,9.1,9.2,9.3,9.4,9.5,9.6,9.7,9.8,9.9,10.1,10.2,10.3,10.4,10.5,10.6,10.7,10.8,10.9,11.1,11.2,11.3,11.4,11.5,11.6,11.7,11.8,11.9,12.1,12.2,12.3,12.4]}}}},
  {"mark":{"type":"point","opacity":0},
   "encoding":{"x":{"field":"v","type":"quantitative","scale":{"domain":[0,5],"nice":false},"axis":null},"y":{"field":"d","type":"quantitative","scale":{"domain":[0,12.5],"reverse":true,"nice":false},"axis":{"orient":"right","title":null,"labels":false,"tickSize":-6,"tickWidth":2,"tickCount":500,"tickMinStep":0.1,"values":[0.1,0.2,0.3,0.4,0.5,0.6,0.7,0.8,0.9,1.1,1.2,1.3,1.4,1.5,1.6,1.7,1.8,1.9,2.1,2.2,2.3,2.4,2.5,2.6,2.7,2.8,2.9,3.1,3.2,3.3,3.4,3.5,3.6,3.7,3.8,3.9,4.1,4.2,4.3,4.4,4.5,4.6,4.7,4.8,4.9,5.1,5.2,5.3,5.4,5.5,5.6,5.7,5.8,5.9,6.1,6.2,6.3,6.4,6.5,6.6,6.7,6.8,6.9,7.1,7.2,7.3,7.4,7.5,7.6,7.7,7.8,7.9,8.1,8.2,8.3,8.4,8.5,8.6,8.7,8.8,8.9,9.1,9.2,9.3,9.4,9.5,9.6,9.7,9.8,9.9,10.1,10.2,10.3,10.4,10.5,10.6,10.7,10.8,10.9,11.1,11.2,11.3,11.4,11.5,11.6,11.7,11.8,11.9,12.1,12.2,12.3,12.4]}}}}
 ],
 "resolve":{"axis":{"x":"independent","y":"independent"}}},
{"width":150,"height":1052,"data":{"name":"p2"},"title":"PS1394-4",
 "layer":[
  {"mark":{"type":"area","orient":"horizontal","color":"#b3b3b3","opacity":1},
   "encoding":{
    "x":{"field":"v","type":"quantitative","stack":null,"scale":{"domain":[0,5],"nice":false},"axis":{"orient":"top","title":null,"values":[0,1,2,3,4,5],"tickCount":100,"format":"d","labelExpr":"indexof([0,5],datum.value)>=0?datum.label:''","tickSize":{"condition":{"test":"indexof([0,5],datum.value)>=0","value":-9},"value":-5},"labelPadding":18,"labelAlign":{"condition":{"test":"datum.value===0","value":"right"},"value":"center"}}},
    "y":{"field":"d","type":"quantitative","scale":{"domain":[0,12.5],"reverse":true,"nice":false},"axis":{"orient":"left","title":null,"labels":false,"values":[0,1,2,3,4,5,6,7,8,9,10,11,12],"tickCount":100,"tickSize":-10}}}},
  {"mark":{"type":"line","color":"#222","strokeWidth":2.2},
   "encoding":{
    "x":{"field":"v","type":"quantitative","scale":{"domain":[0,5],"nice":false},"axis":{"orient":"bottom","title":null,"labels":false,"values":[0,1,2,3,4,5],"tickCount":100,"tickSize":{"condition":{"test":"indexof([0,5],datum.value)>=0","value":-9},"value":-5}}},
    "y":{"field":"d","type":"quantitative","scale":{"domain":[0,12.5],"reverse":true,"nice":false},"axis":{"orient":"right","title":null,"labels":false,"values":[0,1,2,3,4,5,6,7,8,9,10,11,12],"tickCount":100,"tickSize":-11}},
    "order":{"field":"d","type":"quantitative"}}},
  {"mark":{"type":"point","shape":"square","filled":true,"size":36,"color":"#222","opacity":1},
   "encoding":{"x":{"field":"v","type":"quantitative","scale":{"domain":[0,5],"nice":false},"axis":null},"y":{"field":"d","type":"quantitative","scale":{"domain":[0,12.5],"reverse":true,"nice":false},"axis":{"orient":"left","title":null,"labels":false,"tickSize":-6,"tickWidth":2,"tickCount":500,"tickMinStep":0.1,"values":[0.1,0.2,0.3,0.4,0.5,0.6,0.7,0.8,0.9,1.1,1.2,1.3,1.4,1.5,1.6,1.7,1.8,1.9,2.1,2.2,2.3,2.4,2.5,2.6,2.7,2.8,2.9,3.1,3.2,3.3,3.4,3.5,3.6,3.7,3.8,3.9,4.1,4.2,4.3,4.4,4.5,4.6,4.7,4.8,4.9,5.1,5.2,5.3,5.4,5.5,5.6,5.7,5.8,5.9,6.1,6.2,6.3,6.4,6.5,6.6,6.7,6.8,6.9,7.1,7.2,7.3,7.4,7.5,7.6,7.7,7.8,7.9,8.1,8.2,8.3,8.4,8.5,8.6,8.7,8.8,8.9,9.1,9.2,9.3,9.4,9.5,9.6,9.7,9.8,9.9,10.1,10.2,10.3,10.4,10.5,10.6,10.7,10.8,10.9,11.1,11.2,11.3,11.4,11.5,11.6,11.7,11.8,11.9,12.1,12.2,12.3,12.4]}}}},
  {"mark":{"type":"point","opacity":0},
   "encoding":{"x":{"field":"v","type":"quantitative","scale":{"domain":[0,5],"nice":false},"axis":null},"y":{"field":"d","type":"quantitative","scale":{"domain":[0,12.5],"reverse":true,"nice":false},"axis":{"orient":"right","title":null,"labels":false,"tickSize":-6,"tickWidth":2,"tickCount":500,"tickMinStep":0.1,"values":[0.1,0.2,0.3,0.4,0.5,0.6,0.7,0.8,0.9,1.1,1.2,1.3,1.4,1.5,1.6,1.7,1.8,1.9,2.1,2.2,2.3,2.4,2.5,2.6,2.7,2.8,2.9,3.1,3.2,3.3,3.4,3.5,3.6,3.7,3.8,3.9,4.1,4.2,4.3,4.4,4.5,4.6,4.7,4.8,4.9,5.1,5.2,5.3,5.4,5.5,5.6,5.7,5.8,5.9,6.1,6.2,6.3,6.4,6.5,6.6,6.7,6.8,6.9,7.1,7.2,7.3,7.4,7.5,7.6,7.7,7.8,7.9,8.1,8.2,8.3,8.4,8.5,8.6,8.7,8.8,8.9,9.1,9.2,9.3,9.4,9.5,9.6,9.7,9.8,9.9,10.1,10.2,10.3,10.4,10.5,10.6,10.7,10.8,10.9,11.1,11.2,11.3,11.4,11.5,11.6,11.7,11.8,11.9,12.1,12.2,12.3,12.4]}}}}
 ],
 "resolve":{"axis":{"x":"independent","y":"independent"}}},
{"width":150,"height":1052,"data":{"name":"p3"},"title":"PS1431-1",
 "layer":[
  {"mark":{"type":"area","orient":"horizontal","color":"#b3b3b3","opacity":1},
   "encoding":{
    "x":{"field":"v","type":"quantitative","stack":null,"scale":{"domain":[0,5],"nice":false},"axis":{"orient":"top","title":null,"values":[0,1,2,3,4,5],"tickCount":100,"format":"d","labelExpr":"indexof([0,5],datum.value)>=0?datum.label:''","tickSize":{"condition":{"test":"indexof([0,5],datum.value)>=0","value":-9},"value":-5},"labelPadding":18,"labelAlign":{"condition":{"test":"datum.value===0","value":"right"},"value":"center"}}},
    "y":{"field":"d","type":"quantitative","scale":{"domain":[0,12.5],"reverse":true,"nice":false},"axis":{"orient":"left","title":null,"labels":false,"values":[0,1,2,3,4,5,6,7,8,9,10,11,12],"tickCount":100,"tickSize":-10}}}},
  {"mark":{"type":"line","color":"#222","strokeWidth":2.2},
   "encoding":{
    "x":{"field":"v","type":"quantitative","scale":{"domain":[0,5],"nice":false},"axis":{"orient":"bottom","title":null,"labels":false,"values":[0,1,2,3,4,5],"tickCount":100,"tickSize":{"condition":{"test":"indexof([0,5],datum.value)>=0","value":-9},"value":-5}}},
    "y":{"field":"d","type":"quantitative","scale":{"domain":[0,12.5],"reverse":true,"nice":false},"axis":{"orient":"right","title":null,"labels":false,"values":[0,1,2,3,4,5,6,7,8,9,10,11,12],"tickCount":100,"tickSize":-11}},
    "order":{"field":"d","type":"quantitative"}}},
  {"mark":{"type":"point","shape":"square","filled":true,"size":36,"color":"#222","opacity":1},
   "encoding":{"x":{"field":"v","type":"quantitative","scale":{"domain":[0,5],"nice":false},"axis":null},"y":{"field":"d","type":"quantitative","scale":{"domain":[0,12.5],"reverse":true,"nice":false},"axis":{"orient":"left","title":null,"labels":false,"tickSize":-6,"tickWidth":2,"tickCount":500,"tickMinStep":0.1,"values":[0.1,0.2,0.3,0.4,0.5,0.6,0.7,0.8,0.9,1.1,1.2,1.3,1.4,1.5,1.6,1.7,1.8,1.9,2.1,2.2,2.3,2.4,2.5,2.6,2.7,2.8,2.9,3.1,3.2,3.3,3.4,3.5,3.6,3.7,3.8,3.9,4.1,4.2,4.3,4.4,4.5,4.6,4.7,4.8,4.9,5.1,5.2,5.3,5.4,5.5,5.6,5.7,5.8,5.9,6.1,6.2,6.3,6.4,6.5,6.6,6.7,6.8,6.9,7.1,7.2,7.3,7.4,7.5,7.6,7.7,7.8,7.9,8.1,8.2,8.3,8.4,8.5,8.6,8.7,8.8,8.9,9.1,9.2,9.3,9.4,9.5,9.6,9.7,9.8,9.9,10.1,10.2,10.3,10.4,10.5,10.6,10.7,10.8,10.9,11.1,11.2,11.3,11.4,11.5,11.6,11.7,11.8,11.9,12.1,12.2,12.3,12.4]}}}},
  {"mark":{"type":"point","opacity":0},
   "encoding":{"x":{"field":"v","type":"quantitative","scale":{"domain":[0,5],"nice":false},"axis":null},"y":{"field":"d","type":"quantitative","scale":{"domain":[0,12.5],"reverse":true,"nice":false},"axis":{"orient":"right","title":null,"labels":false,"tickSize":-6,"tickWidth":2,"tickCount":500,"tickMinStep":0.1,"values":[0.1,0.2,0.3,0.4,0.5,0.6,0.7,0.8,0.9,1.1,1.2,1.3,1.4,1.5,1.6,1.7,1.8,1.9,2.1,2.2,2.3,2.4,2.5,2.6,2.7,2.8,2.9,3.1,3.2,3.3,3.4,3.5,3.6,3.7,3.8,3.9,4.1,4.2,4.3,4.4,4.5,4.6,4.7,4.8,4.9,5.1,5.2,5.3,5.4,5.5,5.6,5.7,5.8,5.9,6.1,6.2,6.3,6.4,6.5,6.6,6.7,6.8,6.9,7.1,7.2,7.3,7.4,7.5,7.6,7.7,7.8,7.9,8.1,8.2,8.3,8.4,8.5,8.6,8.7,8.8,8.9,9.1,9.2,9.3,9.4,9.5,9.6,9.7,9.8,9.9,10.1,10.2,10.3,10.4,10.5,10.6,10.7,10.8,10.9,11.1,11.2,11.3,11.4,11.5,11.6,11.7,11.8,11.9,12.1,12.2,12.3,12.4]}}}}
 ],
 "resolve":{"axis":{"x":"independent","y":"independent"}}},
{"width":150,"height":1052,"data":{"name":"p4"},"title":"PS1648-1",
 "layer":[
  {"mark":{"type":"area","orient":"horizontal","color":"#b3b3b3","opacity":1},
   "encoding":{
    "x":{"field":"v","type":"quantitative","stack":null,"scale":{"domain":[0,10],"nice":false},"axis":{"orient":"top","title":null,"values":[0,1,2,3,4,5,6,7,8,9,10],"tickCount":100,"format":"d","labelExpr":"indexof([0,5,10],datum.value)>=0?datum.label:''","tickSize":{"condition":{"test":"indexof([0,5,10],datum.value)>=0","value":-9},"value":-5},"labelPadding":18,"labelAlign":{"condition":{"test":"datum.value===0","value":"right"},"value":"center"}}},
    "y":{"field":"d","type":"quantitative","scale":{"domain":[0,12.5],"reverse":true,"nice":false},"axis":{"orient":"left","title":null,"labels":false,"values":[0,1,2,3,4,5,6,7,8,9,10,11,12],"tickCount":100,"tickSize":-10}}}},
  {"mark":{"type":"line","color":"#222","strokeWidth":2.2},
   "encoding":{
    "x":{"field":"v","type":"quantitative","scale":{"domain":[0,10],"nice":false},"axis":{"orient":"bottom","title":null,"labels":false,"values":[0,1,2,3,4,5,6,7,8,9,10],"tickCount":100,"tickSize":{"condition":{"test":"indexof([0,5,10],datum.value)>=0","value":-9},"value":-5}}},
    "y":{"field":"d","type":"quantitative","scale":{"domain":[0,12.5],"reverse":true,"nice":false},"axis":{"orient":"right","title":null,"labels":false,"values":[0,1,2,3,4,5,6,7,8,9,10,11,12],"tickCount":100,"tickSize":-11}},
    "order":{"field":"d","type":"quantitative"}}},
  {"mark":{"type":"point","shape":"square","filled":true,"size":36,"color":"#222","opacity":1},
   "encoding":{"x":{"field":"v","type":"quantitative","scale":{"domain":[0,10],"nice":false},"axis":null},"y":{"field":"d","type":"quantitative","scale":{"domain":[0,12.5],"reverse":true,"nice":false},"axis":{"orient":"left","title":null,"labels":false,"tickSize":-6,"tickWidth":2,"tickCount":500,"tickMinStep":0.1,"values":[0.1,0.2,0.3,0.4,0.5,0.6,0.7,0.8,0.9,1.1,1.2,1.3,1.4,1.5,1.6,1.7,1.8,1.9,2.1,2.2,2.3,2.4,2.5,2.6,2.7,2.8,2.9,3.1,3.2,3.3,3.4,3.5,3.6,3.7,3.8,3.9,4.1,4.2,4.3,4.4,4.5,4.6,4.7,4.8,4.9,5.1,5.2,5.3,5.4,5.5,5.6,5.7,5.8,5.9,6.1,6.2,6.3,6.4,6.5,6.6,6.7,6.8,6.9,7.1,7.2,7.3,7.4,7.5,7.6,7.7,7.8,7.9,8.1,8.2,8.3,8.4,8.5,8.6,8.7,8.8,8.9,9.1,9.2,9.3,9.4,9.5,9.6,9.7,9.8,9.9,10.1,10.2,10.3,10.4,10.5,10.6,10.7,10.8,10.9,11.1,11.2,11.3,11.4,11.5,11.6,11.7,11.8,11.9,12.1,12.2,12.3,12.4]}}}},
  {"mark":{"type":"point","opacity":0},
   "encoding":{"x":{"field":"v","type":"quantitative","scale":{"domain":[0,10],"nice":false},"axis":null},"y":{"field":"d","type":"quantitative","scale":{"domain":[0,12.5],"reverse":true,"nice":false},"axis":{"orient":"right","title":null,"labels":false,"tickSize":-6,"tickWidth":2,"tickCount":500,"tickMinStep":0.1,"values":[0.1,0.2,0.3,0.4,0.5,0.6,0.7,0.8,0.9,1.1,1.2,1.3,1.4,1.5,1.6,1.7,1.8,1.9,2.1,2.2,2.3,2.4,2.5,2.6,2.7,2.8,2.9,3.1,3.2,3.3,3.4,3.5,3.6,3.7,3.8,3.9,4.1,4.2,4.3,4.4,4.5,4.6,4.7,4.8,4.9,5.1,5.2,5.3,5.4,5.5,5.6,5.7,5.8,5.9,6.1,6.2,6.3,6.4,6.5,6.6,6.7,6.8,6.9,7.1,7.2,7.3,7.4,7.5,7.6,7.7,7.8,7.9,8.1,8.2,8.3,8.4,8.5,8.6,8.7,8.8,8.9,9.1,9.2,9.3,9.4,9.5,9.6,9.7,9.8,9.9,10.1,10.2,10.3,10.4,10.5,10.6,10.7,10.8,10.9,11.1,11.2,11.3,11.4,11.5,11.6,11.7,11.8,11.9,12.1,12.2,12.3,12.4]}}}}
 ],
 "resolve":{"axis":{"x":"independent","y":"independent"}}},
{"width":150,"height":1052,"data":{"name":"p5"},"title":"PS1390-3",
 "layer":[
  {"mark":{"type":"area","orient":"horizontal","color":"#b3b3b3","opacity":1},
   "encoding":{
    "x":{"field":"v","type":"quantitative","stack":null,"scale":{"domain":[0,20],"nice":false},"axis":{"orient":"top","title":null,"values":[0,1,2,3,4,5,6,7,8,9,10,11,12,13,14,15,16,17,18,19,20],"tickCount":100,"format":"d","labelExpr":"indexof([0,10,20],datum.value)>=0?datum.label:''","tickSize":{"condition":{"test":"indexof([0,10,20],datum.value)>=0","value":-9},"value":-4},"labelPadding":18,"labelAlign":{"condition":{"test":"datum.value===0","value":"right"},"value":"center"}}},
    "y":{"field":"d","type":"quantitative","scale":{"domain":[0,12.5],"reverse":true,"nice":false},"axis":{"orient":"left","title":null,"labels":false,"values":[0,1,2,3,4,5,6,7,8,9,10,11,12],"tickCount":100,"tickSize":-10}}}},
  {"mark":{"type":"line","color":"#222","strokeWidth":2.2},
   "encoding":{
    "x":{"field":"v","type":"quantitative","scale":{"domain":[0,20],"nice":false},"axis":{"orient":"bottom","title":null,"labels":false,"values":[0,1,2,3,4,5,6,7,8,9,10,11,12,13,14,15,16,17,18,19,20],"tickCount":100,"tickSize":{"condition":{"test":"indexof([0,10,20],datum.value)>=0","value":-9},"value":-4}}},
    "y":{"field":"d","type":"quantitative","scale":{"domain":[0,12.5],"reverse":true,"nice":false},"axis":{"orient":"right","title":null,"labels":false,"values":[0,1,2,3,4,5,6,7,8,9,10,11,12],"tickCount":100,"tickSize":-11}},
    "order":{"field":"d","type":"quantitative"}}},
  {"mark":{"type":"point","shape":"square","filled":true,"size":36,"color":"#222","opacity":1},
   "encoding":{"x":{"field":"v","type":"quantitative","scale":{"domain":[0,20],"nice":false},"axis":null},"y":{"field":"d","type":"quantitative","scale":{"domain":[0,12.5],"reverse":true,"nice":false},"axis":{"orient":"left","title":null,"labels":false,"tickSize":-6,"tickWidth":2,"tickCount":500,"tickMinStep":0.1,"values":[0.1,0.2,0.3,0.4,0.5,0.6,0.7,0.8,0.9,1.1,1.2,1.3,1.4,1.5,1.6,1.7,1.8,1.9,2.1,2.2,2.3,2.4,2.5,2.6,2.7,2.8,2.9,3.1,3.2,3.3,3.4,3.5,3.6,3.7,3.8,3.9,4.1,4.2,4.3,4.4,4.5,4.6,4.7,4.8,4.9,5.1,5.2,5.3,5.4,5.5,5.6,5.7,5.8,5.9,6.1,6.2,6.3,6.4,6.5,6.6,6.7,6.8,6.9,7.1,7.2,7.3,7.4,7.5,7.6,7.7,7.8,7.9,8.1,8.2,8.3,8.4,8.5,8.6,8.7,8.8,8.9,9.1,9.2,9.3,9.4,9.5,9.6,9.7,9.8,9.9,10.1,10.2,10.3,10.4,10.5,10.6,10.7,10.8,10.9,11.1,11.2,11.3,11.4,11.5,11.6,11.7,11.8,11.9,12.1,12.2,12.3,12.4]}}}},
  {"mark":{"type":"point","opacity":0},
   "encoding":{"x":{"field":"v","type":"quantitative","scale":{"domain":[0,20],"nice":false},"axis":null},"y":{"field":"d","type":"quantitative","scale":{"domain":[0,12.5],"reverse":true,"nice":false},"axis":{"orient":"right","title":null,"labels":false,"tickSize":-6,"tickWidth":2,"tickCount":500,"tickMinStep":0.1,"values":[0.1,0.2,0.3,0.4,0.5,0.6,0.7,0.8,0.9,1.1,1.2,1.3,1.4,1.5,1.6,1.7,1.8,1.9,2.1,2.2,2.3,2.4,2.5,2.6,2.7,2.8,2.9,3.1,3.2,3.3,3.4,3.5,3.6,3.7,3.8,3.9,4.1,4.2,4.3,4.4,4.5,4.6,4.7,4.8,4.9,5.1,5.2,5.3,5.4,5.5,5.6,5.7,5.8,5.9,6.1,6.2,6.3,6.4,6.5,6.6,6.7,6.8,6.9,7.1,7.2,7.3,7.4,7.5,7.6,7.7,7.8,7.9,8.1,8.2,8.3,8.4,8.5,8.6,8.7,8.8,8.9,9.1,9.2,9.3,9.4,9.5,9.6,9.7,9.8,9.9,10.1,10.2,10.3,10.4,10.5,10.6,10.7,10.8,10.9,11.1,11.2,11.3,11.4,11.5,11.6,11.7,11.8,11.9,12.1,12.2,12.3,12.4]}}}}
 ],
 "resolve":{"axis":{"x":"independent","y":"independent"}}},
{"width":150,"height":1052,"data":{"name":"p6"},"title":"PS1389-3",
 "layer":[
  {"mark":{"type":"area","orient":"horizontal","color":"#b3b3b3","opacity":1},
   "encoding":{
    "x":{"field":"v","type":"quantitative","stack":null,"scale":{"domain":[0,10],"nice":false},"axis":{"orient":"top","title":null,"values":[0,1,2,3,4,5,6,7,8,9,10],"tickCount":100,"format":"d","labelExpr":"indexof([0,5,10],datum.value)>=0?datum.label:''","tickSize":{"condition":{"test":"indexof([0,5,10],datum.value)>=0","value":-9},"value":-5},"labelPadding":18,"labelAlign":{"condition":{"test":"datum.value===0","value":"right"},"value":"center"}}},
    "y":{"field":"d","type":"quantitative","scale":{"domain":[0,12.5],"reverse":true,"nice":false},"axis":{"orient":"left","title":null,"labels":false,"values":[0,1,2,3,4,5,6,7,8,9,10,11,12],"tickCount":100,"tickSize":-10}}}},
  {"mark":{"type":"line","color":"#222","strokeWidth":2.2},
   "encoding":{
    "x":{"field":"v","type":"quantitative","scale":{"domain":[0,10],"nice":false},"axis":{"orient":"bottom","title":null,"labels":false,"values":[0,1,2,3,4,5,6,7,8,9,10],"tickCount":100,"tickSize":{"condition":{"test":"indexof([0,5,10],datum.value)>=0","value":-9},"value":-5}}},
    "y":{"field":"d","type":"quantitative","scale":{"domain":[0,12.5],"reverse":true,"nice":false},"axis":{"orient":"right","title":null,"labels":false,"values":[0,1,2,3,4,5,6,7,8,9,10,11,12],"tickCount":100,"tickSize":-11}},
    "order":{"field":"d","type":"quantitative"}}},
  {"mark":{"type":"point","shape":"square","filled":true,"size":36,"color":"#222","opacity":1},
   "encoding":{"x":{"field":"v","type":"quantitative","scale":{"domain":[0,10],"nice":false},"axis":null},"y":{"field":"d","type":"quantitative","scale":{"domain":[0,12.5],"reverse":true,"nice":false},"axis":{"orient":"left","title":null,"labels":false,"tickSize":-6,"tickWidth":2,"tickCount":500,"tickMinStep":0.1,"values":[0.1,0.2,0.3,0.4,0.5,0.6,0.7,0.8,0.9,1.1,1.2,1.3,1.4,1.5,1.6,1.7,1.8,1.9,2.1,2.2,2.3,2.4,2.5,2.6,2.7,2.8,2.9,3.1,3.2,3.3,3.4,3.5,3.6,3.7,3.8,3.9,4.1,4.2,4.3,4.4,4.5,4.6,4.7,4.8,4.9,5.1,5.2,5.3,5.4,5.5,5.6,5.7,5.8,5.9,6.1,6.2,6.3,6.4,6.5,6.6,6.7,6.8,6.9,7.1,7.2,7.3,7.4,7.5,7.6,7.7,7.8,7.9,8.1,8.2,8.3,8.4,8.5,8.6,8.7,8.8,8.9,9.1,9.2,9.3,9.4,9.5,9.6,9.7,9.8,9.9,10.1,10.2,10.3,10.4,10.5,10.6,10.7,10.8,10.9,11.1,11.2,11.3,11.4,11.5,11.6,11.7,11.8,11.9,12.1,12.2,12.3,12.4]}}}},
  {"mark":{"type":"point","opacity":0},
   "encoding":{"x":{"field":"v","type":"quantitative","scale":{"domain":[0,10],"nice":false},"axis":null},"y":{"field":"d","type":"quantitative","scale":{"domain":[0,12.5],"reverse":true,"nice":false},"axis":{"orient":"right","title":null,"labels":false,"tickSize":-6,"tickWidth":2,"tickCount":500,"tickMinStep":0.1,"values":[0.1,0.2,0.3,0.4,0.5,0.6,0.7,0.8,0.9,1.1,1.2,1.3,1.4,1.5,1.6,1.7,1.8,1.9,2.1,2.2,2.3,2.4,2.5,2.6,2.7,2.8,2.9,3.1,3.2,3.3,3.4,3.5,3.6,3.7,3.8,3.9,4.1,4.2,4.3,4.4,4.5,4.6,4.7,4.8,4.9,5.1,5.2,5.3,5.4,5.5,5.6,5.7,5.8,5.9,6.1,6.2,6.3,6.4,6.5,6.6,6.7,6.8,6.9,7.1,7.2,7.3,7.4,7.5,7.6,7.7,7.8,7.9,8.1,8.2,8.3,8.4,8.5,8.6,8.7,8.8,8.9,9.1,9.2,9.3,9.4,9.5,9.6,9.7,9.8,9.9,10.1,10.2,10.3,10.4,10.5,10.6,10.7,10.8,10.9,11.1,11.2,11.3,11.4,11.5,11.6,11.7,11.8,11.9,12.1,12.2,12.3,12.4]}}}}
 ],
 "resolve":{"axis":{"x":"independent","y":"independent"}}},
{"width":150,"height":1052,"data":{"name":"p7"},"title":"PS1388-3",
 "layer":[
  {"mark":{"type":"area","orient":"horizontal","color":"#b3b3b3","opacity":1},
   "encoding":{
    "x":{"field":"v","type":"quantitative","stack":null,"scale":{"domain":[0,20],"nice":false},"axis":{"orient":"top","title":null,"values":[0,1,2,3,4,5,6,7,8,9,10,11,12,13,14,15,16,17,18,19,20],"tickCount":100,"format":"d","labelExpr":"indexof([0,10,20],datum.value)>=0?datum.label:''","tickSize":{"condition":{"test":"indexof([0,10,20],datum.value)>=0","value":-9},"value":-4},"labelPadding":18,"labelAlign":{"condition":{"test":"datum.value===0","value":"right"},"value":"center"}}},
    "y":{"field":"d","type":"quantitative","scale":{"domain":[0,12.5],"reverse":true,"nice":false},"axis":{"orient":"left","title":null,"labels":false,"values":[0,1,2,3,4,5,6,7,8,9,10,11,12],"tickCount":100,"tickSize":-10}}}},
  {"mark":{"type":"line","color":"#222","strokeWidth":2.2},
   "encoding":{
    "x":{"field":"v","type":"quantitative","scale":{"domain":[0,20],"nice":false},"axis":{"orient":"bottom","title":null,"labels":false,"values":[0,1,2,3,4,5,6,7,8,9,10,11,12,13,14,15,16,17,18,19,20],"tickCount":100,"tickSize":{"condition":{"test":"indexof([0,10,20],datum.value)>=0","value":-9},"value":-4}}},
    "y":{"field":"d","type":"quantitative","scale":{"domain":[0,12.5],"reverse":true,"nice":false},"axis":{"orient":"right","title":null,"labels":false,"values":[0,1,2,3,4,5,6,7,8,9,10,11,12],"tickCount":100,"tickSize":-11}},
    "order":{"field":"d","type":"quantitative"}}},
  {"mark":{"type":"point","shape":"square","filled":true,"size":36,"color":"#222","opacity":1},
   "encoding":{"x":{"field":"v","type":"quantitative","scale":{"domain":[0,20],"nice":false},"axis":null},"y":{"field":"d","type":"quantitative","scale":{"domain":[0,12.5],"reverse":true,"nice":false},"axis":{"orient":"left","title":null,"labels":false,"tickSize":-6,"tickWidth":2,"tickCount":500,"tickMinStep":0.1,"values":[0.1,0.2,0.3,0.4,0.5,0.6,0.7,0.8,0.9,1.1,1.2,1.3,1.4,1.5,1.6,1.7,1.8,1.9,2.1,2.2,2.3,2.4,2.5,2.6,2.7,2.8,2.9,3.1,3.2,3.3,3.4,3.5,3.6,3.7,3.8,3.9,4.1,4.2,4.3,4.4,4.5,4.6,4.7,4.8,4.9,5.1,5.2,5.3,5.4,5.5,5.6,5.7,5.8,5.9,6.1,6.2,6.3,6.4,6.5,6.6,6.7,6.8,6.9,7.1,7.2,7.3,7.4,7.5,7.6,7.7,7.8,7.9,8.1,8.2,8.3,8.4,8.5,8.6,8.7,8.8,8.9,9.1,9.2,9.3,9.4,9.5,9.6,9.7,9.8,9.9,10.1,10.2,10.3,10.4,10.5,10.6,10.7,10.8,10.9,11.1,11.2,11.3,11.4,11.5,11.6,11.7,11.8,11.9,12.1,12.2,12.3,12.4]}}}},
  {"mark":{"type":"point","opacity":0},
   "encoding":{"x":{"field":"v","type":"quantitative","scale":{"domain":[0,20],"nice":false},"axis":null},"y":{"field":"d","type":"quantitative","scale":{"domain":[0,12.5],"reverse":true,"nice":false},"axis":{"orient":"right","title":null,"labels":false,"tickSize":-6,"tickWidth":2,"tickCount":500,"tickMinStep":0.1,"values":[0.1,0.2,0.3,0.4,0.5,0.6,0.7,0.8,0.9,1.1,1.2,1.3,1.4,1.5,1.6,1.7,1.8,1.9,2.1,2.2,2.3,2.4,2.5,2.6,2.7,2.8,2.9,3.1,3.2,3.3,3.4,3.5,3.6,3.7,3.8,3.9,4.1,4.2,4.3,4.4,4.5,4.6,4.7,4.8,4.9,5.1,5.2,5.3,5.4,5.5,5.6,5.7,5.8,5.9,6.1,6.2,6.3,6.4,6.5,6.6,6.7,6.8,6.9,7.1,7.2,7.3,7.4,7.5,7.6,7.7,7.8,7.9,8.1,8.2,8.3,8.4,8.5,8.6,8.7,8.8,8.9,9.1,9.2,9.3,9.4,9.5,9.6,9.7,9.8,9.9,10.1,10.2,10.3,10.4,10.5,10.6,10.7,10.8,10.9,11.1,11.2,11.3,11.4,11.5,11.6,11.7,11.8,11.9,12.1,12.2,12.3,12.4]}}}}
 ],
 "resolve":{"axis":{"x":"independent","y":"independent"}}},
{"width":150,"height":1052,"data":{"name":"p8"},"title":"PS1387-3",
 "layer":[
  {"mark":{"type":"area","orient":"horizontal","color":"#b3b3b3","opacity":1},
   "encoding":{
    "x":{"field":"v","type":"quantitative","stack":null,"scale":{"domain":[0,20],"nice":false},"axis":{"orient":"top","title":null,"values":[0,1,2,3,4,5,6,7,8,9,10,11,12,13,14,15,16,17,18,19,20],"tickCount":100,"format":"d","labelExpr":"indexof([0,10,20],datum.value)>=0?datum.label:''","tickSize":{"condition":{"test":"indexof([0,10,20],datum.value)>=0","value":-9},"value":-4},"labelPadding":18,"labelAlign":{"condition":{"test":"datum.value===0","value":"right"},"value":"center"}}},
    "y":{"field":"d","type":"quantitative","scale":{"domain":[0,12.5],"reverse":true,"nice":false},"axis":{"orient":"left","title":null,"labels":false,"values":[0,1,2,3,4,5,6,7,8,9,10,11,12],"tickCount":100,"tickSize":-10}}}},
  {"mark":{"type":"line","color":"#222","strokeWidth":2.2},
   "encoding":{
    "x":{"field":"v","type":"quantitative","scale":{"domain":[0,20],"nice":false},"axis":{"orient":"bottom","title":null,"labels":false,"values":[0,1,2,3,4,5,6,7,8,9,10,11,12,13,14,15,16,17,18,19,20],"tickCount":100,"tickSize":{"condition":{"test":"indexof([0,10,20],datum.value)>=0","value":-9},"value":-4}}},
    "y":{"field":"d","type":"quantitative","scale":{"domain":[0,12.5],"reverse":true,"nice":false},"axis":{"orient":"right","title":null,"labels":false,"values":[0,1,2,3,4,5,6,7,8,9,10,11,12],"tickCount":100,"tickSize":-11}},
    "order":{"field":"d","type":"quantitative"}}},
  {"mark":{"type":"point","shape":"square","filled":true,"size":36,"color":"#222","opacity":1},
   "encoding":{"x":{"field":"v","type":"quantitative","scale":{"domain":[0,20],"nice":false},"axis":null},"y":{"field":"d","type":"quantitative","scale":{"domain":[0,12.5],"reverse":true,"nice":false},"axis":{"orient":"left","title":null,"labels":false,"tickSize":-6,"tickWidth":2,"tickCount":500,"tickMinStep":0.1,"values":[0.1,0.2,0.3,0.4,0.5,0.6,0.7,0.8,0.9,1.1,1.2,1.3,1.4,1.5,1.6,1.7,1.8,1.9,2.1,2.2,2.3,2.4,2.5,2.6,2.7,2.8,2.9,3.1,3.2,3.3,3.4,3.5,3.6,3.7,3.8,3.9,4.1,4.2,4.3,4.4,4.5,4.6,4.7,4.8,4.9,5.1,5.2,5.3,5.4,5.5,5.6,5.7,5.8,5.9,6.1,6.2,6.3,6.4,6.5,6.6,6.7,6.8,6.9,7.1,7.2,7.3,7.4,7.5,7.6,7.7,7.8,7.9,8.1,8.2,8.3,8.4,8.5,8.6,8.7,8.8,8.9,9.1,9.2,9.3,9.4,9.5,9.6,9.7,9.8,9.9,10.1,10.2,10.3,10.4,10.5,10.6,10.7,10.8,10.9,11.1,11.2,11.3,11.4,11.5,11.6,11.7,11.8,11.9,12.1,12.2,12.3,12.4]}}}},
  {"mark":{"type":"point","opacity":0},
   "encoding":{"x":{"field":"v","type":"quantitative","scale":{"domain":[0,20],"nice":false},"axis":null},"y":{"field":"d","type":"quantitative","scale":{"domain":[0,12.5],"reverse":true,"nice":false},"axis":{"orient":"right","title":null,"labels":false,"tickSize":-6,"tickWidth":2,"tickCount":500,"tickMinStep":0.1,"values":[0.1,0.2,0.3,0.4,0.5,0.6,0.7,0.8,0.9,1.1,1.2,1.3,1.4,1.5,1.6,1.7,1.8,1.9,2.1,2.2,2.3,2.4,2.5,2.6,2.7,2.8,2.9,3.1,3.2,3.3,3.4,3.5,3.6,3.7,3.8,3.9,4.1,4.2,4.3,4.4,4.5,4.6,4.7,4.8,4.9,5.1,5.2,5.3,5.4,5.5,5.6,5.7,5.8,5.9,6.1,6.2,6.3,6.4,6.5,6.6,6.7,6.8,6.9,7.1,7.2,7.3,7.4,7.5,7.6,7.7,7.8,7.9,8.1,8.2,8.3,8.4,8.5,8.6,8.7,8.8,8.9,9.1,9.2,9.3,9.4,9.5,9.6,9.7,9.8,9.9,10.1,10.2,10.3,10.4,10.5,10.6,10.7,10.8,10.9,11.1,11.2,11.3,11.4,11.5,11.6,11.7,11.8,11.9,12.1,12.2,12.3,12.4]}}}}
 ],
 "resolve":{"axis":{"x":"independent","y":"independent"}}},
{"width":150,"height":1052,"data":{"name":"p9"},"title":"PS1506-1",
 "layer":[
  {"mark":{"type":"area","orient":"horizontal","color":"#b3b3b3","opacity":1},
   "encoding":{
    "x":{"field":"v","type":"quantitative","stack":null,"scale":{"domain":[0,20],"nice":false},"axis":{"orient":"top","title":null,"values":[0,1,2,3,4,5,6,7,8,9,10,11,12,13,14,15,16,17,18,19,20],"tickCount":100,"format":"d","labelExpr":"indexof([0,10,20],datum.value)>=0?datum.label:''","tickSize":{"condition":{"test":"indexof([0,10,20],datum.value)>=0","value":-9},"value":-4},"labelPadding":18,"labelAlign":{"condition":{"test":"datum.value===0","value":"right"},"value":"center"}}},
    "y":{"field":"d","type":"quantitative","scale":{"domain":[0,12.5],"reverse":true,"nice":false},"axis":{"orient":"left","title":null,"labels":false,"values":[0,1,2,3,4,5,6,7,8,9,10,11,12],"tickCount":100,"tickSize":-10}}}},
  {"mark":{"type":"line","color":"#222","strokeWidth":2.2},
   "encoding":{
    "x":{"field":"v","type":"quantitative","scale":{"domain":[0,20],"nice":false},"axis":{"orient":"bottom","title":null,"labels":false,"values":[0,1,2,3,4,5,6,7,8,9,10,11,12,13,14,15,16,17,18,19,20],"tickCount":100,"tickSize":{"condition":{"test":"indexof([0,10,20],datum.value)>=0","value":-9},"value":-4}}},
    "y":{"field":"d","type":"quantitative","scale":{"domain":[0,12.5],"reverse":true,"nice":false},"axis":{"orient":"right","title":null,"labels":false,"values":[0,1,2,3,4,5,6,7,8,9,10,11,12],"tickCount":100,"tickSize":-11}},
    "order":{"field":"d","type":"quantitative"}}},
  {"mark":{"type":"point","shape":"square","filled":true,"size":36,"color":"#222","opacity":1},
   "encoding":{"x":{"field":"v","type":"quantitative","scale":{"domain":[0,20],"nice":false},"axis":null},"y":{"field":"d","type":"quantitative","scale":{"domain":[0,12.5],"reverse":true,"nice":false},"axis":{"orient":"left","title":null,"labels":false,"tickSize":-6,"tickWidth":2,"tickCount":500,"tickMinStep":0.1,"values":[0.1,0.2,0.3,0.4,0.5,0.6,0.7,0.8,0.9,1.1,1.2,1.3,1.4,1.5,1.6,1.7,1.8,1.9,2.1,2.2,2.3,2.4,2.5,2.6,2.7,2.8,2.9,3.1,3.2,3.3,3.4,3.5,3.6,3.7,3.8,3.9,4.1,4.2,4.3,4.4,4.5,4.6,4.7,4.8,4.9,5.1,5.2,5.3,5.4,5.5,5.6,5.7,5.8,5.9,6.1,6.2,6.3,6.4,6.5,6.6,6.7,6.8,6.9,7.1,7.2,7.3,7.4,7.5,7.6,7.7,7.8,7.9,8.1,8.2,8.3,8.4,8.5,8.6,8.7,8.8,8.9,9.1,9.2,9.3,9.4,9.5,9.6,9.7,9.8,9.9,10.1,10.2,10.3,10.4,10.5,10.6,10.7,10.8,10.9,11.1,11.2,11.3,11.4,11.5,11.6,11.7,11.8,11.9,12.1,12.2,12.3,12.4]}}}},
  {"mark":{"type":"point","opacity":0},
   "encoding":{"x":{"field":"v","type":"quantitative","scale":{"domain":[0,20],"nice":false},"axis":null},"y":{"field":"d","type":"quantitative","scale":{"domain":[0,12.5],"reverse":true,"nice":false},"axis":{"orient":"right","title":null,"labels":false,"tickSize":-6,"tickWidth":2,"tickCount":500,"tickMinStep":0.1,"values":[0.1,0.2,0.3,0.4,0.5,0.6,0.7,0.8,0.9,1.1,1.2,1.3,1.4,1.5,1.6,1.7,1.8,1.9,2.1,2.2,2.3,2.4,2.5,2.6,2.7,2.8,2.9,3.1,3.2,3.3,3.4,3.5,3.6,3.7,3.8,3.9,4.1,4.2,4.3,4.4,4.5,4.6,4.7,4.8,4.9,5.1,5.2,5.3,5.4,5.5,5.6,5.7,5.8,5.9,6.1,6.2,6.3,6.4,6.5,6.6,6.7,6.8,6.9,7.1,7.2,7.3,7.4,7.5,7.6,7.7,7.8,7.9,8.1,8.2,8.3,8.4,8.5,8.6,8.7,8.8,8.9,9.1,9.2,9.3,9.4,9.5,9.6,9.7,9.8,9.9,10.1,10.2,10.3,10.4,10.5,10.6,10.7,10.8,10.9,11.1,11.2,11.3,11.4,11.5,11.6,11.7,11.8,11.9,12.1,12.2,12.3,12.4]}}}}
 ],
 "resolve":{"axis":{"x":"independent","y":"independent"}}},
{"width":150,"height":1052,"data":{"name":"p10"},"title":"PS1588-1",
 "layer":[
  {"mark":{"type":"area","orient":"horizontal","color":"#b3b3b3","opacity":1},
   "encoding":{
    "x":{"field":"v","type":"quantitative","stack":null,"scale":{"domain":[0,30],"nice":false},"axis":{"orient":"top","title":null,"values":[0,1,2,3,4,5,6,7,8,9,10,11,12,13,14,15,16,17,18,19,20,21,22,23,24,25,26,27,28,29,30],"tickCount":100,"format":"d","labelExpr":"indexof([0,10,20,30],datum.value)>=0?datum.label:''","tickSize":{"condition":{"test":"indexof([0,10,20,30],datum.value)>=0","value":-9},"value":-4},"labelPadding":18,"labelAlign":{"condition":{"test":"datum.value===0","value":"right"},"value":"center"}}},
    "y":{"field":"d","type":"quantitative","scale":{"domain":[0,12.5],"reverse":true,"nice":false},"axis":{"orient":"left","title":null,"labels":false,"values":[0,1,2,3,4,5,6,7,8,9,10,11,12],"tickCount":100,"tickSize":-10}}}},
  {"mark":{"type":"line","color":"#222","strokeWidth":2.2},
   "encoding":{
    "x":{"field":"v","type":"quantitative","scale":{"domain":[0,30],"nice":false},"axis":{"orient":"bottom","title":null,"labels":false,"values":[0,1,2,3,4,5,6,7,8,9,10,11,12,13,14,15,16,17,18,19,20,21,22,23,24,25,26,27,28,29,30],"tickCount":100,"tickSize":{"condition":{"test":"indexof([0,10,20,30],datum.value)>=0","value":-9},"value":-4}}},
    "y":{"field":"d","type":"quantitative","scale":{"domain":[0,12.5],"reverse":true,"nice":false},"axis":{"orient":"right","title":null,"labels":false,"values":[0,1,2,3,4,5,6,7,8,9,10,11,12],"tickCount":100,"tickSize":-11}},
    "order":{"field":"d","type":"quantitative"}}},
  {"mark":{"type":"point","shape":"square","filled":true,"size":36,"color":"#222","opacity":1},
   "encoding":{"x":{"field":"v","type":"quantitative","scale":{"domain":[0,30],"nice":false},"axis":null},"y":{"field":"d","type":"quantitative","scale":{"domain":[0,12.5],"reverse":true,"nice":false},"axis":{"orient":"left","title":null,"labels":false,"tickSize":-6,"tickWidth":2,"tickCount":500,"tickMinStep":0.1,"values":[0.1,0.2,0.3,0.4,0.5,0.6,0.7,0.8,0.9,1.1,1.2,1.3,1.4,1.5,1.6,1.7,1.8,1.9,2.1,2.2,2.3,2.4,2.5,2.6,2.7,2.8,2.9,3.1,3.2,3.3,3.4,3.5,3.6,3.7,3.8,3.9,4.1,4.2,4.3,4.4,4.5,4.6,4.7,4.8,4.9,5.1,5.2,5.3,5.4,5.5,5.6,5.7,5.8,5.9,6.1,6.2,6.3,6.4,6.5,6.6,6.7,6.8,6.9,7.1,7.2,7.3,7.4,7.5,7.6,7.7,7.8,7.9,8.1,8.2,8.3,8.4,8.5,8.6,8.7,8.8,8.9,9.1,9.2,9.3,9.4,9.5,9.6,9.7,9.8,9.9,10.1,10.2,10.3,10.4,10.5,10.6,10.7,10.8,10.9,11.1,11.2,11.3,11.4,11.5,11.6,11.7,11.8,11.9,12.1,12.2,12.3,12.4]}}}},
  {"mark":{"type":"point","opacity":0},
   "encoding":{"x":{"field":"v","type":"quantitative","scale":{"domain":[0,30],"nice":false},"axis":null},"y":{"field":"d","type":"quantitative","scale":{"domain":[0,12.5],"reverse":true,"nice":false},"axis":{"orient":"right","title":null,"labels":false,"tickSize":-6,"tickWidth":2,"tickCount":500,"tickMinStep":0.1,"values":[0.1,0.2,0.3,0.4,0.5,0.6,0.7,0.8,0.9,1.1,1.2,1.3,1.4,1.5,1.6,1.7,1.8,1.9,2.1,2.2,2.3,2.4,2.5,2.6,2.7,2.8,2.9,3.1,3.2,3.3,3.4,3.5,3.6,3.7,3.8,3.9,4.1,4.2,4.3,4.4,4.5,4.6,4.7,4.8,4.9,5.1,5.2,5.3,5.4,5.5,5.6,5.7,5.8,5.9,6.1,6.2,6.3,6.4,6.5,6.6,6.7,6.8,6.9,7.1,7.2,7.3,7.4,7.5,7.6,7.7,7.8,7.9,8.1,8.2,8.3,8.4,8.5,8.6,8.7,8.8,8.9,9.1,9.2,9.3,9.4,9.5,9.6,9.7,9.8,9.9,10.1,10.2,10.3,10.4,10.5,10.6,10.7,10.8,10.9,11.1,11.2,11.3,11.4,11.5,11.6,11.7,11.8,11.9,12.1,12.2,12.3,12.4]}}}}
 ],
 "resolve":{"axis":{"x":"independent","y":"independent"}}}
]
}
